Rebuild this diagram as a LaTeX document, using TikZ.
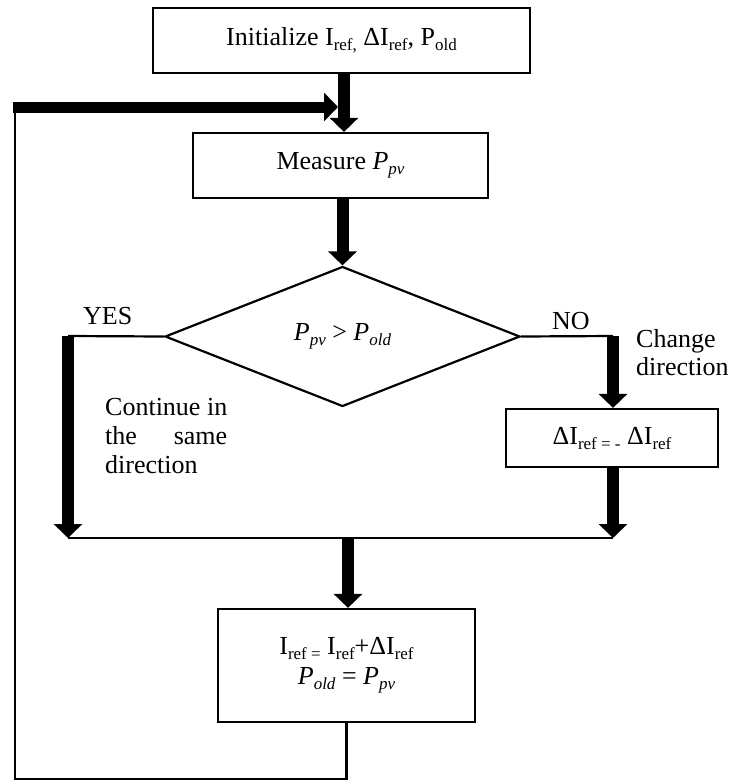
\documentclass[tikz,border=0pt]{standalone}
\usepackage{fontspec}
\setmainfont{Liberation Serif}
\usetikzlibrary{arrows.meta,shapes.geometric}
\newcommand\sbx[1]{\raisebox{-5pt}{\fontsize{17}{17}\selectfont #1}}
\begin{document}
\begin{tikzpicture}[x=1pt,y=-1pt,
  every node/.style={font=\fontsize{26}{30}\selectfont},
  box/.style={draw, line width=2.2pt, inner sep=0pt, rectangle},
  thinline/.style={line width=2.2pt},
  flow/.style={line width=12pt, -{Triangle[width=28pt,length=14pt]}},
  lbl/.style={anchor=base west, inner sep=0pt}]
\useasboundingbox (0,0) rectangle (730,782);

% boxes
\node[box, minimum width=377pt, minimum height=65pt] (init) at (341.5,40.5)
  {Initialize I\sbx{ref,} ΔI\sbx{ref}, P\sbx{old}};
\node[box, minimum width=295pt, minimum height=65pt] (meas) at (340.5,165.5)
  {Measure \textit{P}\sbx{\textit{pv}}};
\node[draw, diamond, line width=2.2pt, inner sep=0pt, aspect=2.5,
  minimum width=355pt, minimum height=140pt] (dec) at (342.5,336.5)
  {\textit{P}\sbx{\textit{pv}} > \textit{P}\sbx{\textit{old}}};
\node[box, minimum width=212pt, minimum height=58pt] (dI) at (612,438)
  {ΔI\sbx{ref = -} ΔI\sbx{ref}};
\node[box, minimum width=257pt, minimum height=113pt, align=center] (upd) at (346.5,665.5)
  {I\sbx{ref =} I\sbx{ref}+ΔI\sbx{ref}\\ \textit{P}\sbx{\textit{old}} = \textit{P}\sbx{\textit{pv}}};

% labels
\node[lbl] (yeslbl) at (83,324) {YES};
\node[lbl] (nolbl) at (552,329) {NO};
\node[lbl] (chg) at (636,347) {\vtop{\baselineskip=28pt\hbox{Change}\hbox{direction}}};
\node[lbl] (cont) at (105,415) {\vtop{\baselineskip=29pt\hbox{Continue in}\hbox to 122pt{the\hfill same}\hbox{direction}}};

% coordinates
\coordinate (ax) at (344,0);
\coordinate (fbtip) at (338,107);
\coordinate (fbstart) at (13,107);
\coordinate (fbcorner) at (15,107);
\coordinate (lowL) at (15,779);
\coordinate (yes) at (68,336);
\coordinate (yesend) at (68,538);
\coordinate (no) at (613,336);
\coordinate (noend) at (613,538);
\coordinate (mid) at (348,538);

% connectors
\draw[flow] (init.south -| ax) -- (meas.north -| ax);
\draw[thinline] (upd.south) -- (upd.south |- lowL) -- (lowL) -- (fbcorner);
\draw[line width=11pt, -{Triangle[width=28pt,length=14pt]}] (fbstart) -- (fbtip);
\draw[flow] (meas.south -| dec.north) -- (dec.north);
\draw[thinline] (dec.west) -- (yes);
\draw[flow] (yes) -- (yesend);
\draw[thinline] (dec.east) -- (no);
\draw[flow] (no) -- (dI.north -| no);
\draw[flow] (dI.south -| no) -- (noend);
\draw[thinline] (yesend) -- (noend);
\draw[flow] (mid) -- (upd.north -| mid);
\end{tikzpicture}
\end{document}
